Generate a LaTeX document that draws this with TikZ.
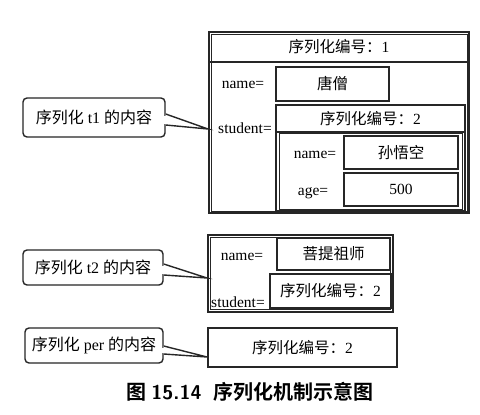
\documentclass[tikz,border=0pt]{standalone}
\usepackage{fontspec}
\setmainfont{Liberation Serif}
\newfontfamily\cjk{Noto Sans CJK SC}
\newfontfamily\cjkb{Noto Sans CJK SC Bold}
\usetikzlibrary{calc}
\tikzset{
  box/.style={draw=black!85, line width=1.4pt, minimum width=#1, inner sep=0pt, font=\fontsize{15.5}{15.5}\selectfont},
  lbl/.style={font=\fontsize{15.5}{15.5}\selectfont, inner sep=0pt},
  call/.style={draw=black!85, line width=1.4pt, rounded corners=4pt, fill=white, inner sep=0pt, font=\fontsize{16}{16}\selectfont},
  ptr/.style={draw=black!85, line width=1.4pt, fill=white, line join=miter},
}
\begin{document}
\begin{tikzpicture}[x=1pt,y=-1pt]
\useasboundingbox[fill=white] (0,0) rectangle (480,415);

% ---------- box 1 ----------
\node[box=260pt, minimum height=181pt] (box1) at (339,122.5) {};
\draw[black!85, line width=0.6pt] (211,34) rectangle (467,211);
\node[box=260pt, minimum height=30pt] (hdr1) at (339,47) {{\cjk 序列化编号：}1};
\node[box=113pt, minimum height=34pt] (ts) at (332.5,84) {\cjk 唐僧};
\node[lbl] (n1) at (243,85) {name=};
\node[lbl] (s1) at (245,128) {student=};
\node[box=189pt, minimum height=106pt] (stu) at (370.5,158) {};
\draw[black!85, line width=0.6pt] (279,133) rectangle (462,209);
\node[box=189pt, minimum height=27pt] (hdr2) at (370.5,118.5) {{\cjk 序列化编号：}2};
\node[box=114pt, minimum height=33pt] (swk) at (401,152.5) {\cjk 孙悟空};
\node[box=114pt, minimum height=33pt] (age) at (401,189.5) {500};
\node[lbl] (n2) at (315,155) {name=};
\node[lbl] (a2) at (313,193) {age=};

% ---------- callout 1 ----------
\node[call, minimum width=142pt, minimum height=39pt] (c1) at (94,117.5) {{\cjk 序列化} t1 {\cjk 的内容}};
\coordinate (tip1) at (208,129);
\filldraw[ptr] (c1.east |- 0,114) -- (tip1) -- (c1.east |- 0,125);
\fill[white] ($(c1.east |- 0,115.5)+(-1.5,0)$) rectangle ($(c1.east |- 0,123.5)+(1,0)$);

% ---------- box 2 ----------
\node[box=185pt, minimum height=77pt] (box2) at (300.5,273.5) {};
\draw[black!85, line width=0.6pt] (210.5,237.5) rectangle (390.5,309.5);
\node[box=113pt, minimum height=32pt] (ptzs) at (333.5,254) {\cjk 菩提祖师};
\node[box=121pt, minimum height=34pt] (ref2) at (330.5,291) {{\cjk 序列化编号：}2};
\node[lbl] (n3) at (242,257) {name=};
\node[lbl] (s3) at (238,302) {student=};

% ---------- callout 2 ----------
\node[call, minimum width=140pt, minimum height=35pt] (c2) at (93,267.5) {{\cjk 序列化} t2 {\cjk 的内容}};
\coordinate (tip2) at (207,278);
\filldraw[ptr] (c2.east |- 0,264) -- (tip2) -- (c2.east |- 0,275);
\fill[white] ($(c2.east |- 0,265.5)+(-1.5,0)$) rectangle ($(c2.east |- 0,273.5)+(1,0)$);

% ---------- box 3 ----------
\node[box=189pt, minimum height=39pt] (box3) at (302.5,347.5) {{\cjk 序列化编号：}2};

% ---------- callout 3 ----------
\node[call, minimum width=138pt, minimum height=35pt] (c3) at (94,345.5) {{\cjk 序列化} per {\cjk 的内容}};
\coordinate (tip3) at (207,357);
\filldraw[ptr] (c3.east |- 0,346) -- (tip3) -- (c3.east |- 0,354);
\fill[white] ($(c3.east |- 0,347.5)+(-1.5,0)$) rectangle ($(c3.east |- 0,352.5)+(1,0)$);

% ---------- caption ----------
\node[inner sep=0pt, font=\fontsize{20}{20}\selectfont] (cap) at (250,392) {{\cjkb 图} {\sffamily\bfseries 15.14}\hspace{0.6em}{\cjkb 序列化机制示意图}};
\end{tikzpicture}
\end{document}
